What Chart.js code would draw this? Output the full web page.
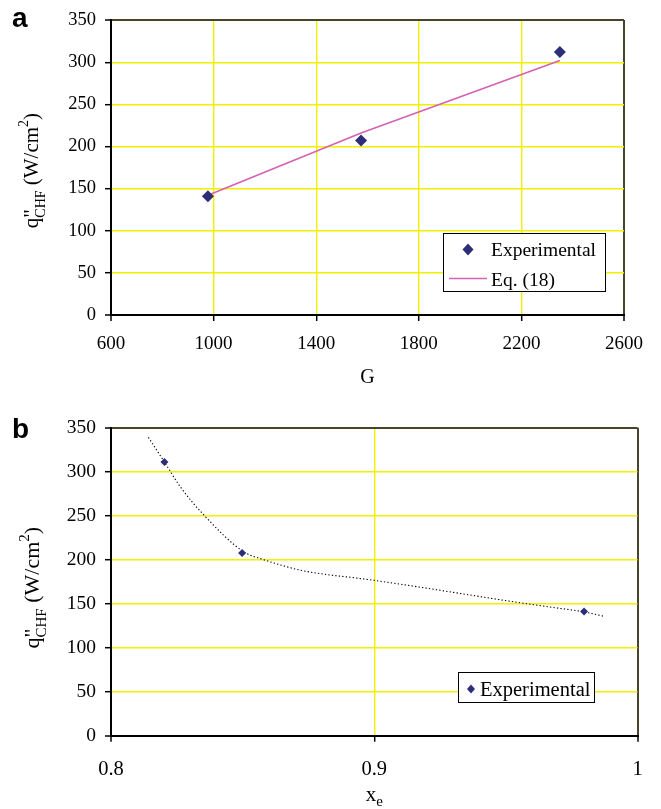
<!DOCTYPE html>
<html><head><meta charset="utf-8">
<script src="https://cdn.jsdelivr.net/npm/chart.js@4/dist/chart.umd.min.js"></script>
<style>
html,body{margin:0;padding:0;background:#fff;}
#wrap{position:relative;width:661px;height:809px;overflow:hidden;}
#c1{position:absolute;left:0;top:0;}
#c2{position:absolute;left:0;top:400px;}
</style></head><body>
<div id="wrap"><canvas id="c1" width="661" height="400"></canvas><canvas id="c2" width="661" height="409"></canvas></div>
<script>
// ---- data ----
const gExp = [978, 1575, 2350];
const qExpA = [141, 207, 312];
const gEq = [978, 1575, 2350];
const qEq = [142, 216, 302];
const xeExp = [0.8203, 0.8498, 0.9797];
const qExpB = [311, 207.5, 141];
const xeTrend = [0.8142, 0.8203, 0.8263, 0.8352, 0.8504, 0.858, 0.865, 0.872, 0.881, 0.891, 0.9, 0.918, 0.934, 0.95, 0.966, 0.98, 0.9875];
const qTrend = [339, 311, 283, 251, 209, 200, 193.5, 188, 183.5, 180, 176.5, 168.5, 161, 153.5, 146.5, 140.5, 135.5];
const gTicks = [600, 1000, 1400, 1800, 2200, 2600];
const qTicks = [0, 50, 100, 150, 200, 250, 300, 350];
const xeTicks = [0.8, 0.9, 1];

const SERIF = '"Liberation Serif", "Times New Roman", serif';
const YELLOW = '#f0f000';
const EDGE = '#45452c';
const NAVY = '#2e2e78';

function pts(xs, ys) { return xs.map((x, i) => ({ x: x, y: ys[i] })); }

function drawRich(ctx, parts, cx, cy, rotate) {
  ctx.save();
  ctx.translate(cx, cy);
  if (rotate) ctx.rotate(-Math.PI / 2);
  ctx.fillStyle = '#000';
  ctx.textBaseline = 'alphabetic';
  ctx.textAlign = 'left';
  let total = 0;
  parts.forEach(p => {
    ctx.font = p.f;
    let w = ctx.measureText(p.t).width;
    if (p.over) { ctx.font = p.over.f; w = Math.max(w, ctx.measureText(p.over.t).width); }
    p.w = w; total += w;
  });
  let x = -total / 2;
  parts.forEach(p => {
    ctx.font = p.f;
    ctx.fillText(p.t, x, p.dy || 0);
    if (p.over) { ctx.font = p.over.f; ctx.fillText(p.over.t, x, p.over.dy || 0); }
    x += p.w;
  });
  ctx.restore();
}

function yTitleParts(main, sub) {
  const mf = main + 'px ' + SERIF, sf = sub + 'px ' + SERIF;
  return [
    { t: 'q', f: mf },
    { t: 'CHF', f: sf, dy: 7, over: { t: '"', f: mf, dy: 0 } },
    { t: ' (W/cm', f: mf },
    { t: '2', f: sf, dy: -10 },
    { t: ')', f: mf }
  ];
}

function gridColor(edgeLow, edgeHigh) {
  return ctx => {
    const v = ctx.tick ? ctx.tick.value : null;
    if (v === edgeLow) return '#000';
    if (v === edgeHigh) return EDGE;
    return YELLOW;
  };
}
function gridWidth(edgeLow, edgeHigh) {
  return ctx => {
    const v = ctx.tick ? ctx.tick.value : null;
    if (v === edgeLow || v === edgeHigh) return 2;
    return 1.4;
  };
}
const plain = v => String(v);

// ---------------- chart a ----------------
const decoA = {
  id: 'decoA',
  afterDraw(chart) {
    const ctx = chart.ctx;
    const a = chart.chartArea;
    ctx.save();
    ctx.fillStyle = '#000';
    ctx.font = 'bold 28px "Liberation Sans", Arial, sans-serif';
    ctx.textBaseline = 'alphabetic';
    ctx.fillText('a', 12, 27);
    ctx.restore();
    drawRich(ctx, yTitleParts(21, 14), 38, (a.top + a.bottom) / 2 + 3, true);
    drawRich(ctx, [{ t: 'G', f: '20px ' + SERIF }], (a.left + a.right) / 2, 383, false);
    // legend
    ctx.save();
    ctx.fillStyle = '#fff';
    ctx.fillRect(443, 233, 163, 59);
    ctx.strokeStyle = '#000';
    ctx.lineWidth = 1;
    ctx.strokeRect(443.5, 233.5, 162, 58);
    ctx.fillStyle = NAVY;
    ctx.beginPath();
    ctx.moveTo(468, 243.5); ctx.lineTo(473.5, 249.5); ctx.lineTo(468, 255.5); ctx.lineTo(462.5, 249.5); ctx.closePath();
    ctx.fill();
    ctx.strokeStyle = '#d462b4';
    ctx.lineWidth = 1.6;
    ctx.beginPath(); ctx.moveTo(449, 278.5); ctx.lineTo(487, 278.5); ctx.stroke();
    ctx.fillStyle = '#000';
    ctx.font = '19.5px ' + SERIF;
    ctx.textBaseline = 'alphabetic';
    ctx.fillText('Experimental', 491, 255.5);
    ctx.fillText('Eq. (18)', 491, 285.5);
    ctx.restore();
  }
};

new Chart(document.getElementById('c1'), {
  type: 'scatter',
  data: {
    datasets: [
      { label: 'Experimental', data: pts(gExp, qExpA), pointStyle: 'rectRot', pointRadius: 6, pointHoverRadius: 6,
        backgroundColor: NAVY, borderColor: NAVY, borderWidth: 0, showLine: false },
      { label: 'Eq. (18)', data: pts(gEq, qEq), showLine: true, pointRadius: 0, borderColor: '#d462b4', borderWidth: 1.6, tension: 0 }
    ]
  },
  options: {
    responsive: false, animation: false, devicePixelRatio: 1,
    layout: { padding: { left: 0, right: 37, top: 20, bottom: 0 } },
    plugins: { legend: { display: false }, tooltip: { enabled: false } },
    scales: {
      x: {
        type: 'linear', min: 600, max: 2600,
        afterBuildTicks: s => { s.ticks = gTicks.map(v => ({ value: v })); },
        afterFit: s => { s.height = 85; },
        ticks: { font: { family: SERIF, size: 19 }, color: '#000', padding: 12, maxRotation: 0, autoSkip: false, callback: plain },
        grid: { color: gridColor(600, 2600), lineWidth: gridWidth(600, 2600), tickColor: '#000', tickLength: 6, tickWidth: 1.5 },
        border: { color: '#000', width: 2 }
      },
      y: {
        min: 0, max: 350,
        afterBuildTicks: s => { s.ticks = qTicks.map(v => ({ value: v })); },
        afterFit: s => { s.width = 111; },
        ticks: { font: { family: SERIF, size: 18.5 }, color: '#000', padding: 9, callback: plain },
        grid: { color: gridColor(0, 350), lineWidth: gridWidth(0, 350), tickColor: '#000', tickLength: 6, tickWidth: 1.5 },
        border: { color: '#000', width: 2 }
      }
    }
  },
  plugins: [decoA]
});

// ---------------- chart b ----------------
const decoB = {
  id: 'decoB',
  afterDraw(chart) {
    const ctx = chart.ctx;
    const a = chart.chartArea;
    ctx.save();
    ctx.fillStyle = '#000';
    ctx.font = 'bold 28px "Liberation Sans", Arial, sans-serif';
    ctx.textBaseline = 'alphabetic';
    ctx.fillText('b', 12, 38);
    ctx.restore();
    drawRich(ctx, yTitleParts(22, 15), 39, (a.top + a.bottom) / 2 + 6, true);
    drawRich(ctx, [{ t: 'x', f: '21px ' + SERIF }, { t: 'e', f: '15px ' + SERIF, dy: 5 }], (a.left + a.right) / 2, 400.5, false);
    // legend
    ctx.save();
    ctx.fillStyle = '#fff';
    ctx.fillRect(458, 272, 137, 31);
    ctx.strokeStyle = '#000';
    ctx.lineWidth = 1;
    ctx.strokeRect(458.5, 272.5, 136, 30);
    ctx.fillStyle = NAVY;
    ctx.beginPath();
    ctx.moveTo(471, 284.5); ctx.lineTo(475, 289); ctx.lineTo(471, 293.5); ctx.lineTo(467, 289); ctx.closePath();
    ctx.fill();
    ctx.fillStyle = '#000';
    ctx.font = '20.5px ' + SERIF;
    ctx.textBaseline = 'alphabetic';
    ctx.fillText('Experimental', 480, 296);
    ctx.restore();
  }
};

new Chart(document.getElementById('c2'), {
  type: 'scatter',
  data: {
    datasets: [
      { label: 'Experimental', data: pts(xeExp, qExpB), pointStyle: 'rectRot', pointRadius: 4, pointHoverRadius: 4,
        backgroundColor: NAVY, borderColor: NAVY, borderWidth: 0, showLine: false },
      { label: 'Trend', data: pts(xeTrend, qTrend), showLine: true, pointRadius: 0, borderColor: '#000', borderWidth: 1.1,
        borderDash: [1.3, 2.2], cubicInterpolationMode: 'monotone' }
    ]
  },
  options: {
    responsive: false, animation: false, devicePixelRatio: 1,
    layout: { padding: { left: 0, right: 23.5, top: 27.7, bottom: 0 } },
    plugins: { legend: { display: false }, tooltip: { enabled: false } },
    scales: {
      x: {
        type: 'linear', min: 0.8, max: 1,
        afterBuildTicks: s => { s.ticks = xeTicks.map(v => ({ value: v })); },
        afterFit: s => { s.height = 73.3; },
        ticks: { font: { family: SERIF, size: 20.5 }, color: '#000', padding: 16, maxRotation: 0, autoSkip: false, callback: plain },
        grid: { color: gridColor(0.8, 1), lineWidth: gridWidth(0.8, 1), tickColor: '#000', tickLength: 6, tickWidth: 1.5 },
        border: { color: '#000', width: 2 }
      },
      y: {
        min: 0, max: 350,
        afterBuildTicks: s => { s.ticks = qTicks.map(v => ({ value: v })); },
        afterFit: s => { s.width = 111; },
        ticks: { font: { family: SERIF, size: 19.5 }, color: '#000', padding: 9, callback: plain },
        grid: { color: gridColor(0, 350), lineWidth: gridWidth(0, 350), tickColor: '#000', tickLength: 6, tickWidth: 1.5 },
        border: { color: '#000', width: 2 }
      }
    }
  },
  plugins: [decoB]
});
</script>
</body></html>
